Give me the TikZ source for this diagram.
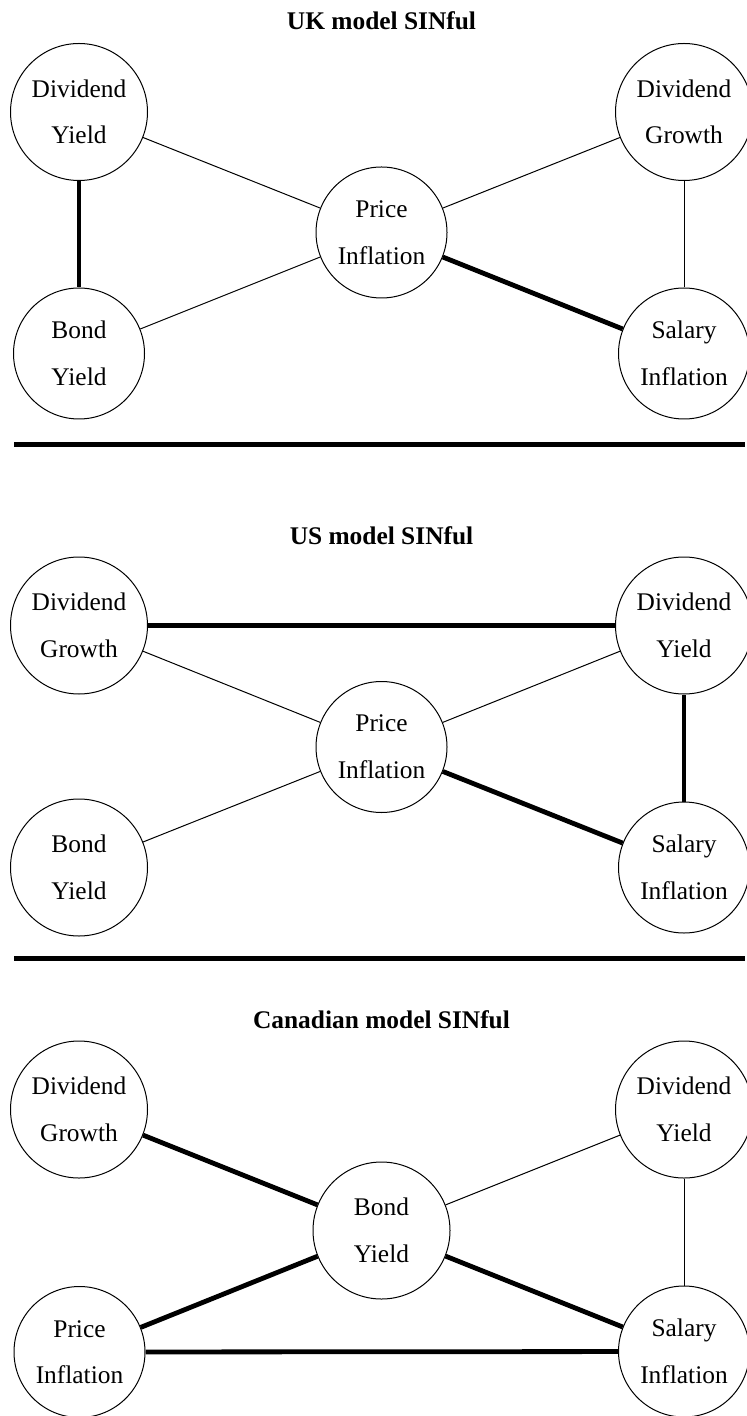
\documentclass[tikz,border=0pt]{standalone}
\usepackage{fontspec}
\setmainfont{Liberation Serif}
\begin{document}
\begin{tikzpicture}[x=0.5pt,y=-0.5pt,
	factor/.style={draw,circle,line width=0.5pt,minimum size=65.5pt,inner sep=0pt,align=center,font=\fontsize{12.7}{23.3}\selectfont},
	big/.style={minimum size=68.5pt},
	weak/.style={line width=0.5pt},
	strong/.style={line width=2.4pt},
	heading/.style={anchor=base,font=\fontsize{12.7}{15}\selectfont\bfseries}]
	\useasboundingbox (0,0) rectangle (747,1416);

	% UK
	\node[heading] (uk-t) at (381.5,30) {UK model SINful};
	\node[factor,big] (uk-dy) at (79,112) {Dividend\\Yield};
	\node[factor] (uk-by) at (79,353.5) {Bond\\Yield};
	\node[factor] (uk-pi) at (381.5,232.5) {Price\\Inflation};
	\node[factor,big] (uk-dg) at (684,112) {Dividend\\Growth};
	\node[factor] (uk-si) at (684,353.5) {Salary\\Inflation};
	\draw[strong] (uk-dy) -- (uk-by);
	\draw[weak] (uk-dy) -- (uk-pi);
	\draw[weak] (uk-by) -- (uk-pi);
	\draw[weak] (uk-dg) -- (uk-pi);
	\draw[weak] (uk-dg) -- (uk-si);
	\draw[strong] (uk-pi) -- (uk-si);

	% US
	\node[heading] (us-t) at (381.5,544) {US model SINful};
	\node[factor,big] (us-dg) at (79,625.5) {Dividend\\Growth};
	\node[factor,big] (us-by) at (79,867.5) {Bond\\Yield};
	\node[factor] (us-pi) at (381.5,747) {Price\\Inflation};
	\node[factor,big] (us-dy) at (684,625.5) {Dividend\\Yield};
	\node[factor] (us-si) at (684,867.5) {Salary\\Inflation};
	\draw[strong] (us-dg) -- (us-dy);
	\draw[weak] (us-dg) -- (us-pi);
	\draw[weak] (us-by) -- (us-pi);
	\draw[weak] (us-pi) -- (us-dy);
	\draw[strong] (us-dy) -- (us-si);
	\draw[strong] (us-pi) -- (us-si);

	% Canada
	\node[heading] (ca-t) at (381.5,1028) {Canadian model SINful};
	\node[factor,big] (ca-dg) at (79,1109.5) {Dividend\\Growth};
	\node[factor] (ca-pi) at (79.5,1352) {Price\\Inflation};
	\node[factor,big] (ca-by) at (381.5,1230.5) {Bond\\Yield};
	\node[factor,big] (ca-dy) at (684,1109.5) {Dividend\\Yield};
	\node[factor] (ca-si) at (684,1351.5) {Salary\\Inflation};
	\draw[strong] (ca-dg) -- (ca-by);
	\draw[strong] (ca-pi) -- (ca-by);
	\draw[weak] (ca-by) -- (ca-dy);
	\draw[weak] (ca-dy) -- (ca-si);
	\draw[strong] (ca-by) -- (ca-si);
	\draw[strong] (ca-pi) -- (ca-si);

	% separators
	\foreach \y in {444.5,958.5} {
		\draw[strong] (14,\y) -- (745,\y);
	}
\end{tikzpicture}
\end{document}
